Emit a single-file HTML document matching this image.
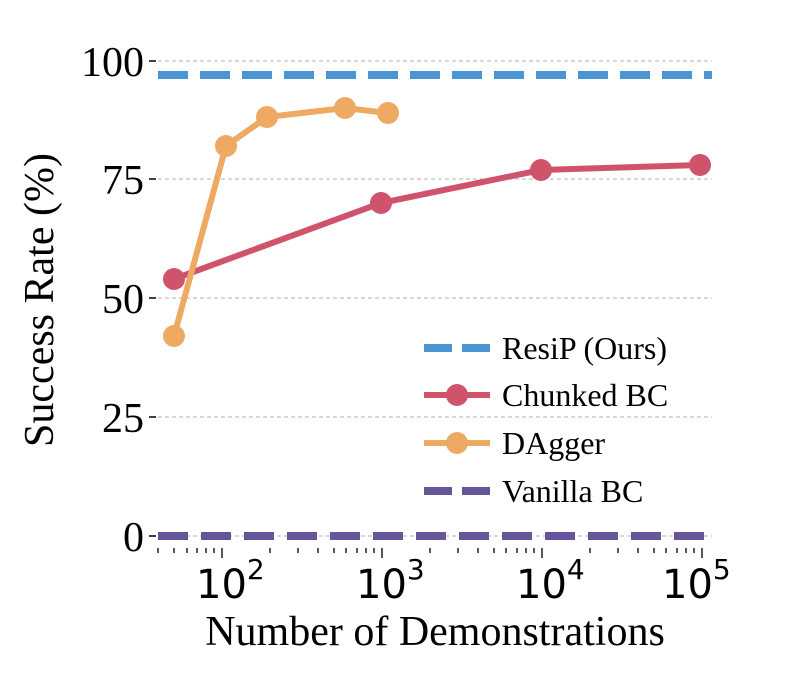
<!DOCTYPE html>
<html><head><style>body{margin:0;background:#fff}</style></head><body>
<svg width="796" height="684" xmlns="http://www.w3.org/2000/svg" font-family="Liberation Serif, serif">
<g stroke="#b0b0b0" stroke-width="1" stroke-dasharray="4,3">
<line x1="158" y1="61" x2="712" y2="61"/><line x1="158" y1="179" x2="712" y2="179"/>
<line x1="158" y1="298" x2="712" y2="298"/><line x1="158" y1="417" x2="712" y2="417"/>
<line x1="158" y1="536" x2="712" y2="536"/></g>
<g stroke="#000" stroke-width="1.5">
<line x1="149" y1="61" x2="156" y2="61"/><line x1="149" y1="179" x2="156" y2="179"/>
<line x1="149" y1="298" x2="156" y2="298"/><line x1="149" y1="417" x2="156" y2="417"/>
<line x1="149" y1="536" x2="156" y2="536"/></g>
<g font-size="42" text-anchor="end" fill="#000">
<text x="144" y="76">100</text><text x="144" y="194">75</text><text x="144" y="313">50</text><text x="144" y="432">25</text><text x="144" y="551">0</text></g>
<line x1="158" y1="75" x2="712" y2="75" stroke="#4a96d4" stroke-width="8" stroke-dasharray="30,12"/>
<line x1="158" y1="536" x2="712" y2="536" stroke="#67559a" stroke-width="8" stroke-dasharray="30,13"/>
<polyline points="174,279 381,203 541,170 700,165" fill="none" stroke="#d0536c" stroke-width="6"/>
<g fill="#d0536c"><circle cx="174" cy="279" r="11"/><circle cx="381" cy="203" r="11"/><circle cx="541" cy="170" r="11"/><circle cx="700" cy="165" r="11"/></g>
<polyline points="174,336 226,146 267,117 345,108 388,113" fill="none" stroke="#eea962" stroke-width="6"/>
<g fill="#eea962"><circle cx="174" cy="336" r="11"/><circle cx="226" cy="146" r="11"/><circle cx="267" cy="117" r="11"/><circle cx="345" cy="108" r="11"/><circle cx="388" cy="113" r="11"/></g>
<g font-size="40" fill="#000" font-family="DejaVu Sans, sans-serif">
<text x="196" y="598">10<tspan font-size="28" dy="-19">2</tspan></text>
<text x="356" y="598">10<tspan font-size="28" dy="-19">3</tspan></text>
<text x="516" y="598">10<tspan font-size="28" dy="-19">4</tspan></text>
<text x="662" y="598">10<tspan font-size="28" dy="-19">5</tspan></text></g>
<text x="435" y="645" font-size="42" text-anchor="middle">Number of Demonstrations</text>
<text transform="translate(53,300) rotate(-90)" font-size="42" text-anchor="middle">Success Rate (%)</text>
<line x1="424" y1="348" x2="490" y2="348" stroke="#4a96d4" stroke-width="8" stroke-dasharray="28,10"/>
<line x1="424" y1="395" x2="490" y2="395" stroke="#d0536c" stroke-width="6"/><circle cx="457" cy="395" r="11" fill="#d0536c"/>
<line x1="424" y1="443" x2="490" y2="443" stroke="#eea962" stroke-width="6"/><circle cx="457" cy="443" r="11" fill="#eea962"/>
<line x1="424" y1="491" x2="490" y2="491" stroke="#67559a" stroke-width="8" stroke-dasharray="28,10"/>
<g font-size="32" fill="#000">
<text x="502" y="359">ResiP (Ours)</text><text x="502" y="406">Chunked BC</text>
<text x="502" y="454">DAgger</text><text x="502" y="502">Vanilla BC</text></g>
<g stroke="#000" stroke-width="1.3">
<line x1="158" y1="548" x2="158" y2="553"/><line x1="174" y1="548" x2="174" y2="553"/><line x1="187" y1="548" x2="187" y2="553"/><line x1="197" y1="548" x2="197" y2="553"/><line x1="206" y1="548" x2="206" y2="553"/><line x1="214" y1="548" x2="214" y2="553"/>
<line x1="222" y1="548" x2="222" y2="558"/>
<line x1="270" y1="548" x2="270" y2="553"/><line x1="298" y1="548" x2="298" y2="553"/><line x1="318" y1="548" x2="318" y2="553"/><line x1="334" y1="548" x2="334" y2="553"/><line x1="346" y1="548" x2="346" y2="553"/><line x1="357" y1="548" x2="357" y2="553"/><line x1="366" y1="548" x2="366" y2="553"/><line x1="374" y1="548" x2="374" y2="553"/>
<line x1="382" y1="548" x2="382" y2="558"/>
<line x1="430" y1="548" x2="430" y2="553"/><line x1="458" y1="548" x2="458" y2="553"/><line x1="478" y1="548" x2="478" y2="553"/><line x1="494" y1="548" x2="494" y2="553"/><line x1="506" y1="548" x2="506" y2="553"/><line x1="517" y1="548" x2="517" y2="553"/><line x1="526" y1="548" x2="526" y2="553"/><line x1="534" y1="548" x2="534" y2="553"/>
<line x1="542" y1="548" x2="542" y2="558"/>
<line x1="590" y1="548" x2="590" y2="553"/><line x1="618" y1="548" x2="618" y2="553"/><line x1="638" y1="548" x2="638" y2="553"/><line x1="654" y1="548" x2="654" y2="553"/><line x1="666" y1="548" x2="666" y2="553"/><line x1="677" y1="548" x2="677" y2="553"/><line x1="686" y1="548" x2="686" y2="553"/><line x1="694" y1="548" x2="694" y2="553"/>
<line x1="702" y1="548" x2="702" y2="558"/></g>
</svg>
</body></html>
